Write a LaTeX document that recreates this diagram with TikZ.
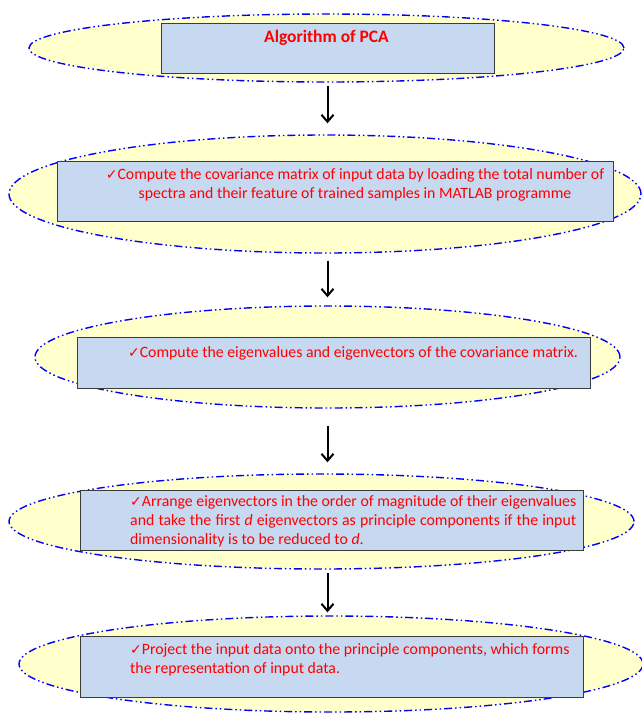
\documentclass[tikz,border=0pt]{standalone}
\usepackage{fontspec}
\setmainfont{Carlito}
\newfontfamily\checkfont{DejaVu Sans}
\usetikzlibrary{arrows.meta,shapes.geometric}
\definecolor{ovalfill}{RGB}{255,255,204}
\definecolor{boxfill}{RGB}{198,217,241}
\definecolor{boxline}{RGB}{60,60,60}
\definecolor{textred}{RGB}{255,0,0}
\newcommand{\tick}{{\checkfont\fontsize{14}{14}\selectfont ✓}}

\begin{document}
\begin{tikzpicture}[x=1pt,y=-1pt,
    oval/.style={ellipse,draw=blue,line width=1.4pt,fill=ovalfill,inner sep=0pt,
      dash pattern=on 8pt off 3pt on 1.5pt off 3pt on 1.5pt off 3pt},
    box/.style={draw=boxline,line width=1pt,fill=boxfill,inner sep=0pt},
    txt/.style={text=textred,font=\fontsize{15.8}{19}\selectfont,inner sep=0pt},
    arrow/.style={-{Straight Barb[length=7pt,width=12pt]},line width=2pt}
  ]
  \useasboundingbox (0,0) rectangle (642,715);
  \node[oval,minimum width=595pt,minimum height=68pt] (e1) at (326.5,48) {};
  \node[oval,minimum width=632pt,minimum height=118pt] (e2) at (325,194) {};
  \node[oval,minimum width=585pt,minimum height=102pt] (e3) at (327.5,357) {};
  \node[oval,minimum width=625pt,minimum height=95pt] (e4) at (321.5,521.5) {};
  \node[oval,minimum width=624pt,minimum height=96pt] (e5) at (331,664) {};

  \node[box,minimum width=333pt,minimum height=50pt] (b1) at (327.5,48) {};
  \node[box,minimum width=556pt,minimum height=60pt] (b2) at (335,191) {};
  \node[box,minimum width=513pt,minimum height=51pt] (b3) at (333.5,362.5) {};
  \node[box,minimum width=503pt,minimum height=60pt] (b4) at (332,520.5) {};
  \node[box,minimum width=503pt,minimum height=61pt] (b5) at (332,666.5) {};

  \node[txt,font=\fontsize{17.5}{19}\selectfont\bfseries] (t1) at (326.5,38) {Algorithm of PCA};
  \node[txt,align=center] (t2) at (355,185) {\tick Compute the covariance matrix of input data by loading the total number of\\
    spectra and their feature of trained samples in MATLAB programme};
  \node[txt] (t3) at (353,353) {\tick Compute the eigenvalues and eigenvectors of the covariance matrix.};
  \node[txt,align=left,anchor=west] (t4) at (130,521.5) {\makebox[446pt][s]{\tick Arrange eigenvectors in the order of magnitude of their eigenvalues}\\
    \makebox[446pt][s]{and take the first \textit{d} eigenvectors as principle components if the input}\\
    dimensionality is to be reduced to \textit{d}.};
  \node[txt,align=left,anchor=west] (t5) at (130,660) {\tick Project the input data onto the principle components, which forms\\
    the representation of input data.};

  \draw[arrow,shorten <=3pt,shorten >=11pt] (e1.south -| b1.south) -- (e2.north -| b1.south);
  \draw[arrow,shorten <=7pt,shorten >=8pt] (e2.south -| b1.south) -- (e3.north -| b1.south);
  \draw[arrow,shorten <=17pt,shorten >=11pt] (e3.south -| b1.south) -- (e4.north -| b1.south);
  \draw[arrow,shorten <=3pt,shorten >=3pt] (e4.south -| b1.south) -- (e5.north -| b1.south);
\end{tikzpicture}
\end{document}
